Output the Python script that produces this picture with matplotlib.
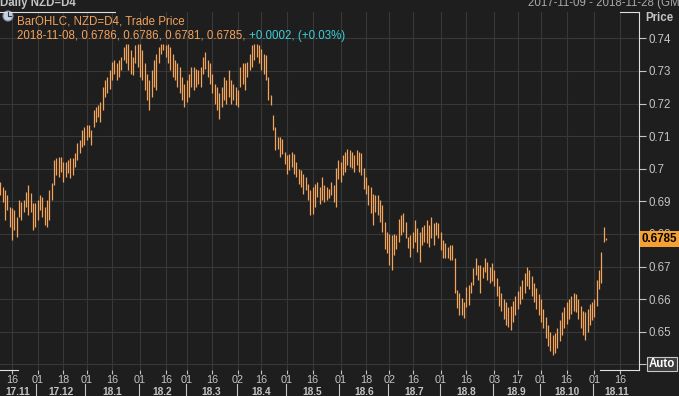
import matplotlib
matplotlib.use("Agg")
import matplotlib.pyplot as plt
import pandas as pd
from matplotlib.patches import Circle
from matplotlib.lines import Line2D
from matplotlib.transforms import IdentityTransform

plt.rcParams["font.family"] = ["Liberation Sans", "DejaVu Sans"]

# daily NZD=D4 bars (high / low), 2017-11-09 .. 2018-11-08, business days
highs = [0.6960, 0.6945, 0.6935, 0.6919, 0.6884, 0.6879, 0.6873, 0.6853, 0.6904, 0.6899,
         0.6904, 0.6930, 0.6950, 0.6925, 0.6894, 0.6894, 0.6904, 0.6919, 0.6914, 0.6884,
         0.6904, 0.6935, 0.6955, 0.7027, 0.7032, 0.7037, 0.7037, 0.7022, 0.7022, 0.7027,
         0.7032, 0.7032, 0.7047, 0.7078, 0.7088, 0.7119, 0.7128, 0.7134, 0.7134, 0.7118,
         0.7180, 0.7190, 0.7195, 0.7205, 0.7251, 0.7272, 0.7282, 0.7302, 0.7328, 0.7333,
         0.7323, 0.7333, 0.7343, 0.7374, 0.7384, 0.7384, 0.7364, 0.7343, 0.7379, 0.7384,
         0.7384, 0.7364, 0.7323, 0.7292, 0.7272, 0.7302, 0.7333, 0.7353, 0.7374, 0.7384,
         0.7384, 0.7379, 0.7384, 0.7374, 0.7353, 0.7333, 0.7323, 0.7313, 0.7282, 0.7261,
         0.7272, 0.7292, 0.7313, 0.7313, 0.7307, 0.7302, 0.7313, 0.7343, 0.7359, 0.7333,
         0.7323, 0.7292, 0.7261, 0.7251, 0.7231, 0.7251, 0.7282, 0.7272, 0.7302, 0.7272,
         0.7261, 0.7251, 0.7241, 0.7313, 0.7325, 0.7323, 0.7328, 0.7353, 0.7379, 0.7384,
         0.7384, 0.7379, 0.7369, 0.7353, 0.7348, 0.7282, 0.7226, 0.7164, 0.7128, 0.7098,
         0.7098, 0.7092, 0.7052, 0.7041, 0.7046, 0.7052, 0.7046, 0.7021, 0.7000, 0.6995,
         0.6985, 0.6975, 0.6954, 0.6934, 0.6944, 0.6954, 0.6960, 0.6944, 0.6975, 0.6950,
         0.6944, 0.6939, 0.6960, 0.6950, 0.7001, 0.7026, 0.7021, 0.7042, 0.7052, 0.7062,
         0.7057, 0.7052, 0.7042, 0.7057, 0.7052, 0.7047, 0.7001, 0.6975, 0.6950, 0.6944,
         0.6924, 0.6919, 0.6919, 0.6904, 0.6888, 0.6837, 0.6806, 0.6801, 0.6796, 0.6801,
         0.6796, 0.6847, 0.6858, 0.6863, 0.6838, 0.6792, 0.6797, 0.6807, 0.6843, 0.6817,
         0.6807, 0.6822, 0.6828, 0.6843, 0.6828, 0.6853, 0.6833, 0.6838, 0.6833, 0.6807,
         0.6782, 0.6771, 0.6761, 0.6766, 0.6766, 0.6725, 0.6628, 0.6618, 0.6603, 0.6592,
         0.6638, 0.6643, 0.6654, 0.6695, 0.6725, 0.6705, 0.6705, 0.6700, 0.6725, 0.6715,
         0.6700, 0.6710, 0.6690, 0.6665, 0.6640, 0.6620, 0.6600, 0.6590, 0.6575, 0.6580,
         0.6595, 0.6610, 0.6625, 0.6640, 0.6660, 0.6680, 0.6700, 0.6690, 0.6670, 0.6650,
         0.6635, 0.6615, 0.6600, 0.6570, 0.6545, 0.6520, 0.6500, 0.6490, 0.6495, 0.6510,
         0.6535, 0.6560, 0.6575, 0.6590, 0.6600, 0.6610, 0.6620, 0.6615, 0.6600, 0.6580,
         0.6565, 0.6560, 0.6570, 0.6585, 0.6590, 0.6600, 0.6660, 0.6690, 0.6745, 0.6822,
         0.6786]
lows = [0.6919, 0.6899, 0.6843, 0.6873, 0.6822, 0.6781, 0.6812, 0.6792, 0.6853, 0.6843,
        0.6868, 0.6884, 0.6858, 0.6868, 0.6812, 0.6822, 0.6843, 0.6873, 0.6853, 0.6827,
        0.6822, 0.6843, 0.6904, 0.6950, 0.6981, 0.6976, 0.6991, 0.6960, 0.6976, 0.6986,
        0.6971, 0.6981, 0.7006, 0.7027, 0.7047, 0.7068, 0.7072, 0.7088, 0.7098, 0.7072,
        0.7128, 0.7144, 0.7159, 0.7144, 0.7180, 0.7220, 0.7231, 0.7246, 0.7272, 0.7292,
        0.7272, 0.7282, 0.7302, 0.7333, 0.7323, 0.7302, 0.7292, 0.7287, 0.7323, 0.7313,
        0.7282, 0.7272, 0.7241, 0.7210, 0.7180, 0.7220, 0.7251, 0.7241, 0.7323, 0.7353,
        0.7364, 0.7343, 0.7323, 0.7302, 0.7282, 0.7272, 0.7251, 0.7231, 0.7210, 0.7190,
        0.7205, 0.7220, 0.7251, 0.7241, 0.7251, 0.7261, 0.7251, 0.7292, 0.7307, 0.7282,
        0.7261, 0.7231, 0.7200, 0.7180, 0.7154, 0.7190, 0.7210, 0.7200, 0.7220, 0.7200,
        0.7210, 0.7195, 0.7190, 0.7251, 0.7260, 0.7241, 0.7282, 0.7302, 0.7313, 0.7333,
        0.7343, 0.7323, 0.7302, 0.7292, 0.7272, 0.7210, 0.7195, 0.7118, 0.7057, 0.7062,
        0.7036, 0.7046, 0.7016, 0.6985, 0.6995, 0.7006, 0.6985, 0.6975, 0.6954, 0.6944,
        0.6924, 0.6934, 0.6903, 0.6857, 0.6862, 0.6883, 0.6913, 0.6893, 0.6903, 0.6898,
        0.6904, 0.6909, 0.6919, 0.6898, 0.6883, 0.6970, 0.6960, 0.6980, 0.6990, 0.7011,
        0.7006, 0.7001, 0.6990, 0.7011, 0.6990, 0.6980, 0.6939, 0.6924, 0.6888, 0.6863,
        0.6827, 0.6868, 0.6858, 0.6837, 0.6806, 0.6755, 0.6740, 0.6704, 0.6689, 0.6735,
        0.6755, 0.6776, 0.6796, 0.6806, 0.6787, 0.6756, 0.6730, 0.6756, 0.6776, 0.6746,
        0.6715, 0.6766, 0.6776, 0.6771, 0.6761, 0.6787, 0.6766, 0.6797, 0.6787, 0.6751,
        0.6725, 0.6725, 0.6725, 0.6720, 0.6720, 0.6618, 0.6572, 0.6551, 0.6551, 0.6541,
        0.6577, 0.6582, 0.6618, 0.6643, 0.6674, 0.6659, 0.6618, 0.6664, 0.6684, 0.6660,
        0.6650, 0.6655, 0.6640, 0.6610, 0.6580, 0.6565, 0.6540, 0.6520, 0.6515, 0.6505,
        0.6530, 0.6550, 0.6570, 0.6585, 0.6600, 0.6620, 0.6640, 0.6630, 0.6610, 0.6590,
        0.6570, 0.6550, 0.6530, 0.6510, 0.6480, 0.6455, 0.6440, 0.6428, 0.6435, 0.6450,
        0.6470, 0.6490, 0.6510, 0.6525, 0.6540, 0.6555, 0.6565, 0.6560, 0.6540, 0.6510,
        0.6490, 0.6475, 0.6500, 0.6520, 0.6535, 0.6545, 0.6580, 0.6630, 0.6648, 0.6776,
        0.6781]

start, end = "2017-11-09", "2018-11-28"
tick_dates = ["2017-11-16", "2017-12-01", "2017-12-18", "2018-01-01", "2018-01-16",
              "2018-02-01", "2018-02-16", "2018-03-01", "2018-03-16", "2018-04-02",
              "2018-04-16", "2018-05-01", "2018-05-16", "2018-06-01", "2018-06-18",
              "2018-07-02", "2018-07-16", "2018-08-01", "2018-08-16", "2018-09-03",
              "2018-09-17", "2018-10-01", "2018-10-16", "2018-11-01", "2018-11-16"]
price_ticks = [0.64, 0.65, 0.66, 0.67, 0.68, 0.69, 0.70, 0.71, 0.72, 0.73, 0.74]
last_price = 0.6785
legend_line = "2018-11-08, 0.6786, 0.6786, 0.6781, 0.6785, "
legend_change = "+0.0002, (+0.03%)"

bg = "#1e1e1e"
grid_c = "#383838"
bar_c = "#f2a35c"
txt_c = "#c4c4c4"
fs = 8.3
W, H = 679, 396

days = pd.bdate_range(start, end)
idx = {d.strftime("%Y-%m-%d"): i for i, d in enumerate(days)}
xs = list(range(len(highs)))

fig = plt.figure(figsize=(W / 100, H / 100), dpi=100, facecolor=bg)
ax = fig.add_axes([0, 1 - 370 / H, 639 / W, 358 / H], facecolor=bg)

ax.vlines(xs, lows, highs, color=bar_c, lw=0.9)

ax.set_xlim(-0.13, 274.1)
ax.set_ylim(0.63825, 0.7481)

# x axis: day numbers plus month row
ax.set_xticks([idx[d] for d in tick_dates])
ax.set_xticklabels([d[-2:] for d in tick_dates])
ax.tick_params(axis="x", colors=txt_c, labelsize=7.8, length=3, pad=0.5, width=0.8)
ax.yaxis.tick_right()
ax.set_yticks(price_ticks)
ax.set_yticklabels(["" if v == 0.64 else f"{v:g}" for v in price_ticks])
ax.tick_params(axis="y", colors=txt_c, labelsize=fs, length=5, pad=2, width=0.8)
ax.grid(True, color=grid_c, lw=0.8)
for s in ax.spines.values():
    s.set_visible(False)
ax.spines["right"].set_visible(True)
ax.spines["right"].set_color("#e0e0e0")

trans = ax.get_xaxis_transform()
months = days.to_period("M")
for m in months.unique():
    pos = [i for i, p in enumerate(months) if p == m]
    ax.text(sum(pos) / len(pos), -0.0615, f"{m.year % 100}.{m.month}", transform=trans,
            ha="center", va="center", color=txt_c, fontsize=7.3, fontweight="bold",
            clip_on=False)
    if pos[0] > 0:
        ax.add_line(Line2D([pos[0] - 0.5] * 2, [-0.038, -0.08], transform=trans,
                           color=txt_c, lw=0.8, clip_on=False))

# right side labels
fig.text(645 / W, 1 - 18 / H, "Price", color=txt_c, fontsize=fs, fontweight="bold",
         va="center")
ax.annotate(f"{last_price:.4f}", xy=(1.0, last_price), xycoords=("axes fraction", "data"),
            xytext=(1.8, 0), textcoords="offset points", ha="left", va="center",
            fontsize=fs, fontweight="bold", color="black",
            bbox=dict(boxstyle="square,pad=0.15", fc="#f5a030", ec="none"),
            annotation_clip=False)
fig.text(662 / W, 1 - 364 / H, "Auto", color="white", fontsize=fs, fontweight="bold",
         ha="center", va="center",
         bbox=dict(boxstyle="square,pad=0.12", fc="#3c3c3c", ec="#c8c8c8", lw=0.8))

# header
fig.text(0.0, 1 - 3 / H, "Daily NZD=D4", color=txt_c, fontsize=fs, fontweight="bold",
         va="center")
fig.text(528 / W, 1 - 3 / H, "2017-11-09 - 2018-11-28 (GMT)", color="#a8a8a8",
         fontsize=fs, va="center")
for x0, x1, y in [(0, 115, 12), (620, 639, 12), (0, 18, 370), (600, 639, 370)]:
    fig.add_artist(Line2D([x0 / W, x1 / W], [1 - y / H] * 2, color="#e0e0e0", lw=0.8))

# legend
fig.add_artist(Circle((8, H - 16), 5, transform=IdentityTransform(), fc="#c8d0e0",
                      ec="#8090a8", lw=0.8))
fig.add_artist(Line2D([8, 8, 11], [H - 12, H - 16, H - 16], transform=IdentityTransform(),
                      color="#303848", lw=0.8))
fig.text(17 / W, 1 - 21 / H, "BarOHLC, NZD=D4, Trade Price", color=bar_c, fontsize=fs,
         va="center")
t1 = fig.text(17 / W, 1 - 36 / H, legend_line, color=bar_c, fontsize=fs, va="center")
ax.annotate(legend_change, xy=(1, 0.5), xycoords=t1, ha="left", va="center",
            color="#3cd0d8", fontsize=fs)

fig.savefig("out.png", dpi=100, facecolor=bg)
